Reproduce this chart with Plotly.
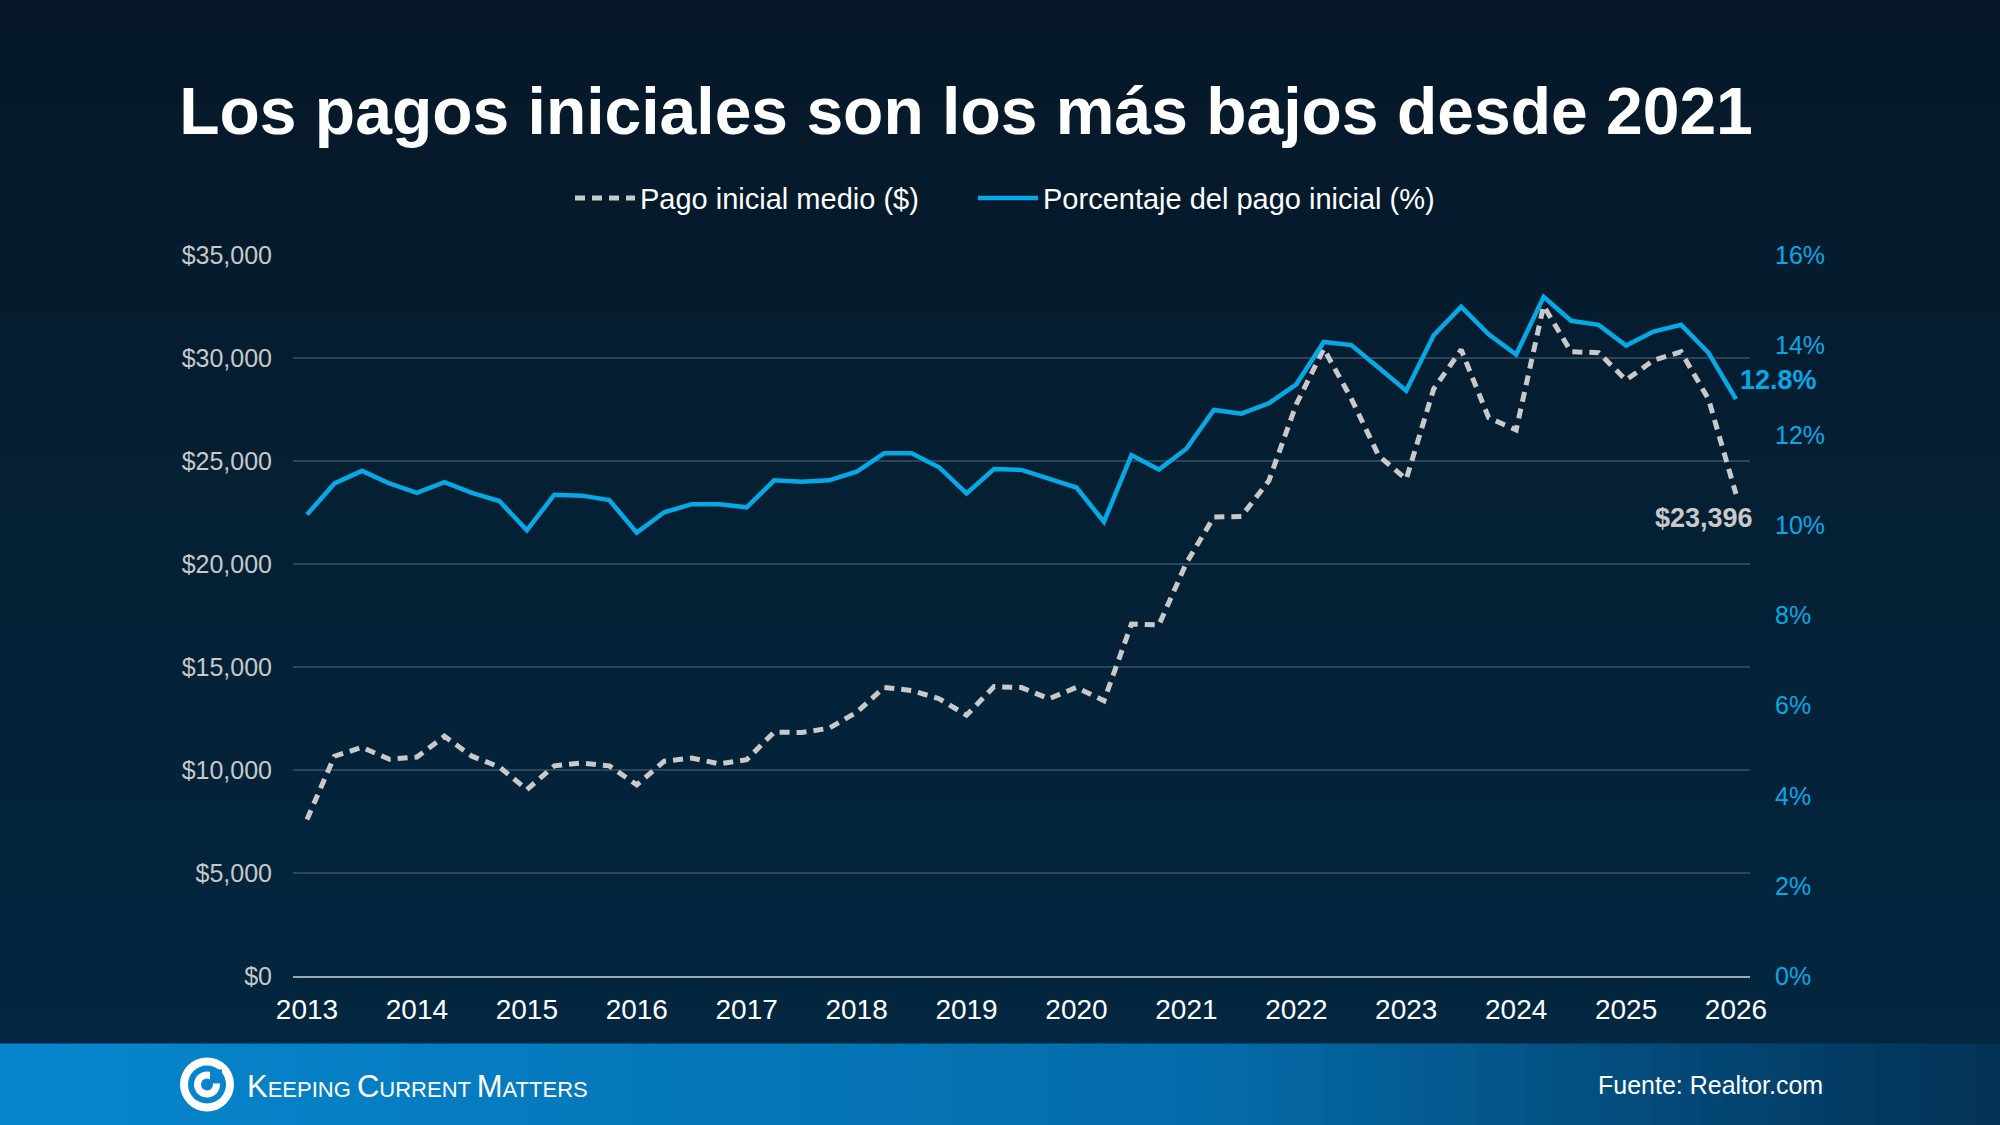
import plotly.graph_objects as go

# ---------------- data ----------------
years = list(range(2013, 2026))
quarters_per_year = 4
# quarterly observations 2013 Q1 ... 2026 Q1
down_payment_usd = [7600, 10670, 11100, 10520, 10630, 11640, 10670, 10150, 9050, 10200,
                    10340, 10200, 9280, 10430, 10580, 10300, 10500, 11840, 11820, 12030,
                    12800, 14010, 13860, 13460, 12660, 14050, 14000, 13460, 14010, 13360,
                    17080, 17040, 20050, 22280, 22310, 24040, 27760, 30450, 28030, 25250,
                    24120, 28500, 30400, 27100, 26510, 32530, 30300, 30260, 28930, 29890,
                    30300, 28000, 23396]
down_payment_pct = [10.24, 10.93, 11.21, 10.93, 10.72, 10.96, 10.72, 10.54, 9.89, 10.68,
                    10.66, 10.56, 9.84, 10.29, 10.47, 10.47, 10.40, 11.00, 10.97, 11.00,
                    11.19, 11.60, 11.60, 11.29, 10.71, 11.25, 11.23, 11.03, 10.84, 10.08,
                    11.56, 11.24, 11.70, 12.56, 12.48, 12.71, 13.13, 14.07, 14.00, 13.50,
                    12.99, 14.22, 14.85, 14.24, 13.79, 15.07, 14.54, 14.45, 13.99, 14.30,
                    14.45, 13.83, 12.8]
x_tick_years = list(range(2013, 2027))
left_ticks = [0, 5000, 10000, 15000, 20000, 25000, 30000, 35000]
left_tick_labels = ["$0", "$5,000", "$10,000", "$15,000", "$20,000", "$25,000", "$30,000", "$35,000"]
right_ticks = [0, 2, 4, 6, 8, 10, 12, 14, 16]
right_tick_labels = ["0%", "2%", "4%", "6%", "8%", "10%", "12%", "14%", "16%"]

series_names = ["Pago inicial medio ($)", "Porcentaje del pago inicial (%)"]
title_text = "Los pagos iniciales son los más bajos desde 2021"
source_text = "Fuente: Realtor.com"
last_usd_label = "$23,396"
last_pct_label = "12.8%"

# x positions (fractional year) of each quarterly observation
x_pos = [years[0] + i / quarters_per_year for i in range(len(down_payment_usd))]

# ---------------- layout geometry ----------------
W_PX, H_PX = 2000, 1125
L, R, T, B = 293, 1750, 254.9, 975.6
PW, PH = R - L, B - T


def px(x):
    return (x - L) / PW


def py(y):
    return (B - y) / PH


def lerp(c1, c2, t):
    return "#%02x%02x%02x" % tuple(int(round(a + (b - a) * t)) for a, b in zip(c1, c2))


FONT = "Liberation Sans, Arial, Helvetica, sans-serif"
BLUE = "#05a9e6"
GRAY = "#c9c9c9"

shapes = []
# background vertical gradient
top_c, bot_c = (6, 24, 40), (3, 39, 64)
n = 60
band_top = 1043
for i in range(n):
    y0 = band_top * i / n
    y1 = band_top * (i + 1) / n + 1
    shapes.append(dict(type="rect", xref="paper", yref="paper", layer="below",
                       x0=px(0), x1=px(W_PX), y0=py(y1), y1=py(y0),
                       fillcolor=lerp(top_c, bot_c, i / (n - 1)), line=dict(width=0)))
# footer horizontal gradient
left_c, mid_c, right_c = (7, 134, 206), (4, 108, 170), (3, 50, 86)
m = 80
for i in range(m):
    x0 = W_PX * i / m
    x1 = W_PX * (i + 1) / m + 1
    t = i / (m - 1)
    col = lerp(left_c, mid_c, t / 0.6) if t < 0.6 else lerp(mid_c, right_c, (t - 0.6) / 0.4)
    shapes.append(dict(type="rect", xref="paper", yref="paper", layer="below",
                       x0=px(x0), x1=px(x1), y0=py(W_PX), y1=py(band_top),
                       fillcolor=col, line=dict(width=0)))
# logo icon
cx, cy = 207, 1084
shapes.append(dict(type="circle", xref="paper", yref="paper", layer="above",
                   x0=px(cx - 27), x1=px(cx + 27), y0=py(cy + 27), y1=py(cy - 27),
                   line=dict(width=0), fillcolor="white"))
shapes.append(dict(type="circle", xref="paper", yref="paper", layer="above",
                   x0=px(cx - 19), x1=px(cx + 19), y0=py(cy + 19), y1=py(cy - 19),
                   line=dict(width=0), fillcolor="#0784cb"))
shapes.append(dict(type="circle", xref="paper", yref="paper", layer="above",
                   x0=px(cx - 13), x1=px(cx + 13), y0=py(cy + 13), y1=py(cy - 13),
                   line=dict(width=0), fillcolor="white"))
shapes.append(dict(type="circle", xref="paper", yref="paper", layer="above",
                   x0=px(cx - 6), x1=px(cx + 6), y0=py(cy + 6), y1=py(cy - 6),
                   line=dict(width=0), fillcolor="#0784cb"))
shapes.append(dict(type="rect", xref="paper", yref="paper", layer="above",
                   x0=px(cx + 3), x1=px(cx + 15), y0=py(cy - 1), y1=py(cy - 15),
                   fillcolor="#0784cb", line=dict(width=0)))

fig = go.Figure()
fig.add_trace(go.Scatter(x=x_pos, y=down_payment_usd, name=series_names[0], mode="lines",
                         line=dict(color=GRAY, width=5, dash="10px,7px"), yaxis="y",
                         legend="legend"))
fig.add_trace(go.Scatter(x=x_pos, y=down_payment_pct, name=series_names[1], mode="lines",
                         line=dict(color=BLUE, width=4.5), yaxis="y2", legend="legend2"))

x_range = [x_tick_years[0] - 14 / 109.9, x_tick_years[-1] + 14 / 109.9]

annotations = [
    dict(text=last_pct_label, x=px(1738), y=py(380), xref="paper", yref="paper",
         xanchor="left", yanchor="middle", showarrow=False,
         font=dict(family=FONT, size=27, color=BLUE, weight="bold")),
    dict(text=last_usd_label, x=px(1755), y=py(518), xref="paper", yref="paper",
         xanchor="right", yanchor="middle", showarrow=False,
         font=dict(family=FONT, size=27, color=GRAY, weight="bold")),
    dict(text=source_text, x=px(1825), y=py(1085), xref="paper", yref="paper",
         xanchor="right", yanchor="middle", showarrow=False,
         font=dict(family=FONT, size=25, color="white")),
    dict(text="<span style='font-size:31px'>K</span>EEPING "
              "<span style='font-size:31px'>C</span>URRENT "
              "<span style='font-size:31px'>M</span>ATTERS",
         x=px(245), y=py(1086), xref="paper", yref="paper",
         xanchor="left", yanchor="middle", showarrow=False,
         font=dict(family=FONT, size=22, color="white")),
]

legend_common = dict(orientation="h", yanchor="middle", y=py(198), xanchor="left",
                     font=dict(family=FONT, size=29, color="white"),
                     bgcolor="rgba(0,0,0,0)", itemwidth=60)

fig.update_layout(
    width=W_PX, height=H_PX, autosize=False,
    margin=dict(l=L, r=W_PX - R, t=T, b=H_PX - B, pad=0),
    paper_bgcolor="#05203a", plot_bgcolor="rgba(0,0,0,0)",
    font=dict(family=FONT, color="white"),
    title=dict(text=f"<b>{title_text}</b>", x=966 / W_PX, xanchor="center",
               y=1 - 111 / H_PX, yanchor="middle", yref="container",
               font=dict(family=FONT, size=66, color="white")),
    showlegend=True,
    legend=dict(x=px(570), **legend_common),
    legend2=dict(x=px(973), **legend_common),
    xaxis=dict(range=x_range, tickmode="array", tickvals=x_tick_years,
               ticktext=[str(y) for y in x_tick_years], showgrid=False, zeroline=False,
               showline=True, linecolor="#9aa6b0", linewidth=1.5, ticks="",
               ticklabelstandoff=8, tickfont=dict(family=FONT, size=28, color="white")),
    yaxis=dict(range=[0, 35000], tickmode="array", tickvals=left_ticks,
               ticktext=left_tick_labels, showgrid=True, gridcolor="#2c4557", gridwidth=1.5,
               zeroline=False, showline=False, ticks="", ticklabelstandoff=20,
               tickfont=dict(family=FONT, size=25, color="#c8c8c8")),
    yaxis2=dict(range=[0, 16], tickmode="array", tickvals=right_ticks,
                ticktext=right_tick_labels,
                overlaying="y", side="right", showgrid=False, zeroline=False, showline=False,
                ticks="", ticklabelstandoff=24,
                tickfont=dict(family=FONT, size=25, color=BLUE)),
    shapes=shapes,
    annotations=annotations,
    hovermode=False,
)

fig.write_html("out.html")
